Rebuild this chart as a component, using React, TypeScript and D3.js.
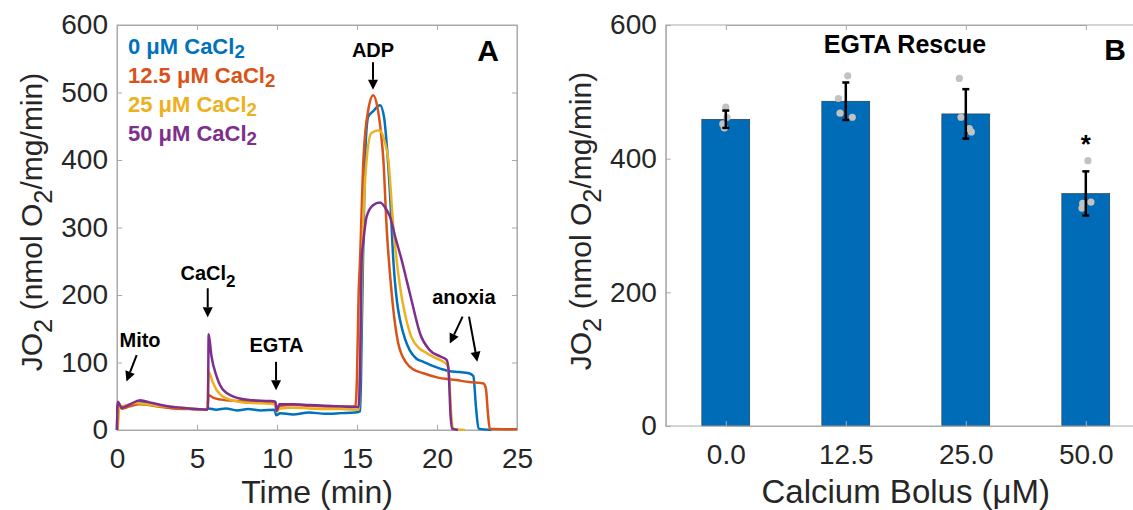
import { useEffect, useRef } from "react";
import * as d3 from "d3";

const W = 1133;
const H = 510;

// ---- Panel A: oxygen flux traces, [time (min), JO2] ----
const trace0 = [
  [0, 0], [0.05, 38], [0.3, 32], [0.7, 36], [1.2, 40], [1.6, 41], [2.2, 38], [2.8, 35],
  [3.5, 33], [4.2, 32], [4.8, 31], [5.4, 30], [5.7, 32], [6.2, 30], [6.8, 32], [7.5, 29],
  [8.2, 31], [9.0, 29], [9.85, 30], [9.95, 22], [10.2, 25], [11, 23], [12, 26], [13, 24],
  [14, 25], [14.9, 26], [15.2, 28], [15.3, 150], [15.5, 400], [15.7, 464], [16.0, 472],
  [16.44, 481], [16.7, 462], [16.85, 425], [17.06, 351], [17.27, 252], [17.5, 190],
  [17.69, 163], [18.0, 135], [18.3, 118], [18.7, 106], [19.15, 101], [19.6, 96], [20.2, 91],
  [20.8, 87], [21.4, 86], [22.0, 84], [22.27, 80], [22.45, 30], [22.6, 2], [23.4, 0],
];
const trace125 = [
  [0, 0], [0.05, 40], [0.3, 32], [0.8, 35], [1.4, 38], [2.0, 37], [2.8, 34], [3.5, 32],
  [4.5, 31], [5.5, 30], [5.65, 31], [5.72, 52], [6.0, 48], [6.5, 45], [7.5, 43], [8.5, 42],
  [9.5, 42], [9.9, 41], [9.97, 28], [10.2, 36], [11, 37], [12, 36], [13, 35], [14, 35],
  [14.9, 35], [15.0, 80], [15.1, 200], [15.19, 252], [15.4, 400], [15.7, 474], [16.02, 496],
  [16.3, 475], [16.5, 440], [16.65, 400], [16.85, 301], [17.17, 202], [17.58, 128],
  [18.1, 99], [18.5, 90], [19.15, 84], [20.0, 78], [21.2, 74], [22.0, 71], [22.9, 69],
  [23.05, 62], [23.2, 20], [23.3, 2], [25, 1],
];
const trace25 = [
  [0, 0], [0.05, 5], [0.15, 35], [0.5, 36], [1.2, 40], [1.8, 38], [2.5, 36], [3.5, 34],
  [4.5, 32], [5.5, 30], [5.65, 31], [5.72, 86], [6.0, 70], [6.23, 59], [6.65, 49],
  [7.6, 42], [8.5, 40], [9.5, 39], [9.9, 38], [9.97, 27], [10.2, 32], [11, 33], [12, 32],
  [13, 31], [14, 31], [15.1, 30], [15.25, 150], [15.35, 272], [15.6, 400], [15.9, 440],
  [16.4, 444], [16.7, 430], [16.96, 400], [17.27, 301], [17.69, 212], [18.0, 172],
  [18.4, 138], [18.94, 120], [19.35, 114], [19.8, 108], [20.4, 101], [20.65, 96],
  [20.75, 80], [20.9, 20], [21.0, 2], [21.75, 0],
];
const trace50 = [
  [0, 0], [0.02, 30], [0.05, 42], [0.3, 33], [0.8, 38], [1.44, 44], [2.2, 40], [3.0, 36],
  [4.0, 33], [5.0, 31], [5.6, 30], [5.68, 32], [5.73, 142], [5.9, 110], [6.23, 79],
  [6.65, 59], [7.6, 47], [8.5, 44], [9.5, 43], [9.9, 42], [9.97, 28], [10.15, 38], [11, 38],
  [12, 37], [13, 36], [14, 35], [15.1, 34], [15.2, 100], [15.29, 252], [15.4, 280],
  [15.6, 316], [16.0, 333], [16.44, 337], [16.8, 328], [17.06, 316], [17.4, 285],
  [17.79, 252], [18.1, 222], [18.4, 193], [18.94, 143], [19.56, 118], [20.2, 109],
  [20.6, 104], [20.72, 90], [20.85, 20], [20.95, 2], [21.3, 0],
];
const traces = [trace0, trace125, trace25, trace50];
const traceDoses = ["0", "12.5", "25", "50"];
const traceColors = ["#0072BD", "#D95319", "#EDB120", "#7E2F8E"];
const timeTicks = [0, 5, 10, 15, 20, 25];
const fluxTicksA = [0, 100, 200, 300, 400, 500, 600];

// event markers on panel A, in data units [time, JO2]
const events = [
  { text: "Mito", sub: "", at: [1.44, 123] },
  { text: "CaCl", sub: "2", at: [5.69, 222] },
  { text: "EGTA", sub: "", at: [9.97, 116] },
  { text: "ADP", sub: "", at: [16.0, 553] },
  { text: "anoxia", sub: "", at: [21.68, 187] },
];
const eventArrows = [
  { from: [1.23, 111], to: [0.59, 72] },
  { from: [5.67, 210], to: [5.67, 167] },
  { from: [9.94, 101], to: [9.94, 59] },
  { from: [16.0, 545], to: [16.0, 504] },
  { from: [21.6, 168], to: [20.8, 128] },
  { from: [22.0, 168], to: [22.52, 101] },
];

// ---- Panel B: EGTA rescue ----
const doses = ["0.0", "12.5", "25.0", "50.0"];
const barMeans = [459, 486, 467, 348];
const barErrors = [13, 28, 37, 33];
const pointValues = [
  [477, 462, 452, 446],
  [524, 490, 468, 462],
  [520, 462, 445, 440],
  [397, 335, 333, 326],
];
// horizontal jitter of each replicate, as a fraction of the category spacing
const pointJitter = [
  [0, 0.01, -0.025, -0.012],
  [0.016, -0.062, -0.048, 0.054],
  [-0.054, -0.04, 0.029, 0.046],
  [0.018, 0.043, -0.026, -0.032],
];
const fluxTicksB = [0, 200, 400, 600];
const significant = [false, false, false, true];

const FONT = "'Liberation Sans', Arial, Helvetica, sans-serif";
const AXIS_GRAY = "#a9a9a9";
const TEXT_DARK = "#262626";

type Sel = d3.Selection<any, any, any, any>;

// text with TeX-like subscripts: parts = [[string, isSub], ...]
function subText(sel: Sel, parts: [string, boolean][], size: number, shiftEm = 0.32) {
  const shift = size * shiftEm;
  let down = false;
  parts.forEach(([s, sub]) => {
    const t = sel.append("tspan").text(s);
    if (sub && !down) {
      t.attr("dy", shift).attr("font-size", size * 0.85);
      down = true;
    } else if (!sub && down) {
      t.attr("dy", -shift);
      down = false;
    }
  });
}

function arrow(g: Sel, x1: number, y1: number, x2: number, y2: number) {
  const ang = Math.atan2(y2 - y1, x2 - x1);
  const hl = 10;
  const hw = 5;
  const bx = x2 - hl * Math.cos(ang);
  const by = y2 - hl * Math.sin(ang);
  g.append("line")
    .attr("x1", x1).attr("y1", y1).attr("x2", bx).attr("y2", by)
    .attr("stroke", "#000").attr("stroke-width", 2);
  g.append("path")
    .attr(
      "d",
      `M${x2},${y2}L${bx + hw * Math.sin(ang)},${by - hw * Math.cos(ang)}L${bx - hw * Math.sin(ang)},${by + hw * Math.cos(ang)}Z`
    )
    .attr("fill", "#000");
}

function styleAxis(g: Sel) {
  g.select(".domain").attr("stroke", AXIS_GRAY).attr("stroke-width", 1).attr("fill", "none");
  g.selectAll(".tick line").attr("stroke", AXIS_GRAY).attr("stroke-width", 1);
  g.selectAll(".tick text")
    .attr("fill", TEXT_DARK)
    .attr("font-size", 28)
    .attr("font-family", FONT);
}

function drawBox(svg: Sel, x: any, y: any, xTicks: any[], yTicks: number[], xFmt: (d: any) => string) {
  const [x0, x1] = x.range();
  const [y0, y1] = y.range();
  // band scales get their ticks at the band centres
  const xs = x.bandwidth
    ? d3.scalePoint<any>().domain(xTicks).range([x(xTicks[0]) + x.bandwidth() / 2, x(xTicks[xTicks.length - 1]) + x.bandwidth() / 2])
    : x;

  const bottom = svg.append("g").attr("transform", `translate(0,${y0})`)
    .call(d3.axisBottom(xs).tickValues(xTicks).tickSizeInner(-5).tickSizeOuter(0).tickPadding(18.5).tickFormat(xFmt as any));
  const top = svg.append("g").attr("transform", `translate(0,${y1})`)
    .call(d3.axisTop(xs).tickValues(xTicks).tickSizeInner(-5).tickSizeOuter(0).tickFormat(() => ""));
  const left = svg.append("g").attr("transform", `translate(${x0},0)`)
    .call(d3.axisLeft(y).tickValues(yTicks).tickSizeInner(-5).tickSizeOuter(0).tickPadding(9).tickFormat(d3.format("d") as any));
  const right = svg.append("g").attr("transform", `translate(${x1},0)`)
    .call(d3.axisRight(y).tickValues(yTicks).tickSizeInner(-5).tickSizeOuter(0).tickFormat(() => ""));
  [bottom, top, left, right].forEach(styleAxis);
  // full box outline (band axes stop at the outer ticks)
  svg.append("rect")
    .attr("x", x0).attr("y", y1).attr("width", x1 - x0).attr("height", y0 - y1)
    .attr("fill", "none").attr("stroke", AXIS_GRAY).attr("stroke-width", 1);
}

export default function App() {
  const ref = useRef<SVGSVGElement>(null);

  useEffect(() => {
    const svg = d3.select(ref.current);
    svg.selectAll("*").remove();

    // ================= Panel A =================
    const xA = d3.scaleLinear().domain([0, 25]).range([117, 517]);
    const yA = d3.scaleLinear().domain([0, 600]).range([430, 25]);

    const gA = svg.append("g");
    drawBox(gA, xA, yA, timeTicks, fluxTicksA, (d) => String(d));

    const line = d3
      .line<number[]>()
      .x((d) => xA(d[0]))
      .y((d) => yA(d[1]))
      .curve(d3.curveMonotoneX);

    gA.append("g")
      .selectAll("path")
      .data(traces)
      .join("path")
      .attr("d", (d) => line(d))
      .attr("fill", "none")
      .attr("stroke", (d, i) => traceColors[i])
      .attr("stroke-width", 2.5)
      .attr("stroke-linejoin", "round");

    // legend (coloured text)
    traceDoses.forEach((d, i) => {
      const t = gA.append("text")
        .attr("x", xA.range()[0] + 11)
        .attr("y", 54 + i * 29)
        .attr("font-family", FONT)
        .attr("font-size", 22)
        .attr("font-weight", "bold")
        .attr("fill", traceColors[i]);
      subText(t, [[`${d} μM CaCl`, false], ["2", true]], 22, 0.2);
    });

    // event labels and arrows
    events.forEach((e) => {
      const t = gA.append("text")
        .attr("x", xA(e.at[0]))
        .attr("y", yA(e.at[1]))
        .attr("text-anchor", "middle")
        .attr("font-family", FONT)
        .attr("font-size", 20)
        .attr("font-weight", "bold")
        .attr("fill", "#000");
      if (e.sub) subText(t, [[e.text, false], [e.sub, true]], 20);
      else t.text(e.text);
    });
    eventArrows.forEach((a) => {
      arrow(gA, xA(a.from[0]), yA(a.from[1]), xA(a.to[0]), yA(a.to[1]));
    });

    gA.append("text")
      .attr("x", 499).attr("y", 61)
      .attr("text-anchor", "end")
      .attr("font-family", FONT).attr("font-size", 30).attr("font-weight", "bold")
      .text("A");

    // axis labels A
    gA.append("text")
      .attr("x", (xA.range()[0] + xA.range()[1]) / 2)
      .attr("y", 503)
      .attr("text-anchor", "middle")
      .attr("font-family", FONT).attr("font-size", 32).attr("fill", TEXT_DARK)
      .text("Time (min)");
    const ylA = gA.append("text")
      .attr("transform", `translate(42,222) rotate(-90)`)
      .attr("text-anchor", "middle")
      .attr("font-family", FONT).attr("font-size", 30).attr("fill", TEXT_DARK);
    subText(ylA, [["JO", false], ["2", true], [" (nmol O", false], ["2", true], ["/mg/min)", false]], 30);

    // ================= Panel B =================
    const xB = d3.scaleBand().domain(doses).range([665.8, 1145.8]).paddingInner(0.6).paddingOuter(0.3);
    const yB = d3.scaleLinear().domain([0, 600]).range([426, 25]);
    const step = xB.step();
    const cx = (d: string) => (xB(d) as number) + xB.bandwidth() / 2;

    const gB = svg.append("g");

    gB.append("g")
      .selectAll("rect")
      .data(doses)
      .join("rect")
      .attr("x", (d) => xB(d) as number)
      .attr("y", (d, i) => yB(barMeans[i]))
      .attr("width", xB.bandwidth())
      .attr("height", (d, i) => yB(0) - yB(barMeans[i]))
      .attr("fill", "#006CB7")
      .attr("stroke", "#2a2a2a")
      .attr("stroke-width", 0.5);

    drawBox(gB, xB, yB, doses, fluxTicksB, (d) => String(d));

    // replicate points
    doses.forEach((d, i) => {
      gB.append("g")
        .selectAll("circle")
        .data(pointValues[i])
        .join("circle")
        .attr("cx", (v, j) => cx(d) + pointJitter[i][j] * step)
        .attr("cy", (v) => yB(v))
        .attr("r", 3.6)
        .attr("fill", "#c2c2c2");
    });

    // error bars
    const eb = gB.append("g").attr("stroke", "#000").attr("stroke-width", 2.5);
    doses.forEach((d, i) => {
      const hi = yB(barMeans[i] + barErrors[i]);
      const lo = yB(barMeans[i] - barErrors[i]);
      eb.append("line").attr("x1", cx(d)).attr("x2", cx(d)).attr("y1", hi).attr("y2", lo);
      eb.append("line").attr("x1", cx(d) - 3.5).attr("x2", cx(d) + 3.5).attr("y1", hi).attr("y2", hi);
      eb.append("line").attr("x1", cx(d) - 3.5).attr("x2", cx(d) + 3.5).attr("y1", lo).attr("y2", lo);
    });

    // significance marks
    doses.forEach((d, i) => {
      if (!significant[i]) return;
      gB.append("text")
        .attr("x", cx(d))
        .attr("y", yB(d3.max(pointValues[i]) as number) - 8)
        .attr("text-anchor", "middle")
        .attr("font-family", FONT).attr("font-size", 26).attr("font-weight", "bold")
        .text("*");
    });

    gB.append("text")
      .attr("x", 905).attr("y", 53)
      .attr("text-anchor", "middle")
      .attr("font-family", FONT).attr("font-size", 25).attr("font-weight", "bold")
      .text("EGTA Rescue");

    gB.append("text")
      .attr("x", 1126).attr("y", 60)
      .attr("text-anchor", "end")
      .attr("font-family", FONT).attr("font-size", 30).attr("font-weight", "bold")
      .text("B");

    gB.append("text")
      .attr("x", (xB.range()[0] + xB.range()[1]) / 2)
      .attr("y", 503)
      .attr("text-anchor", "middle")
      .attr("font-family", FONT).attr("font-size", 33).attr("fill", TEXT_DARK)
      .text("Calcium Bolus (μM)");
    const ylB = gB.append("text")
      .attr("transform", `translate(591,221) rotate(-90)`)
      .attr("text-anchor", "middle")
      .attr("font-family", FONT).attr("font-size", 30).attr("fill", TEXT_DARK);
    subText(ylB, [["JO", false], ["2", true], [" (nmol O", false], ["2", true], ["/mg/min)", false]], 30);
  }, []);

  return (
    <svg
      ref={ref}
      width={W}
      height={H}
      style={{ position: "absolute", left: 0, top: 0, background: "#fff" }}
    />
  );
}
